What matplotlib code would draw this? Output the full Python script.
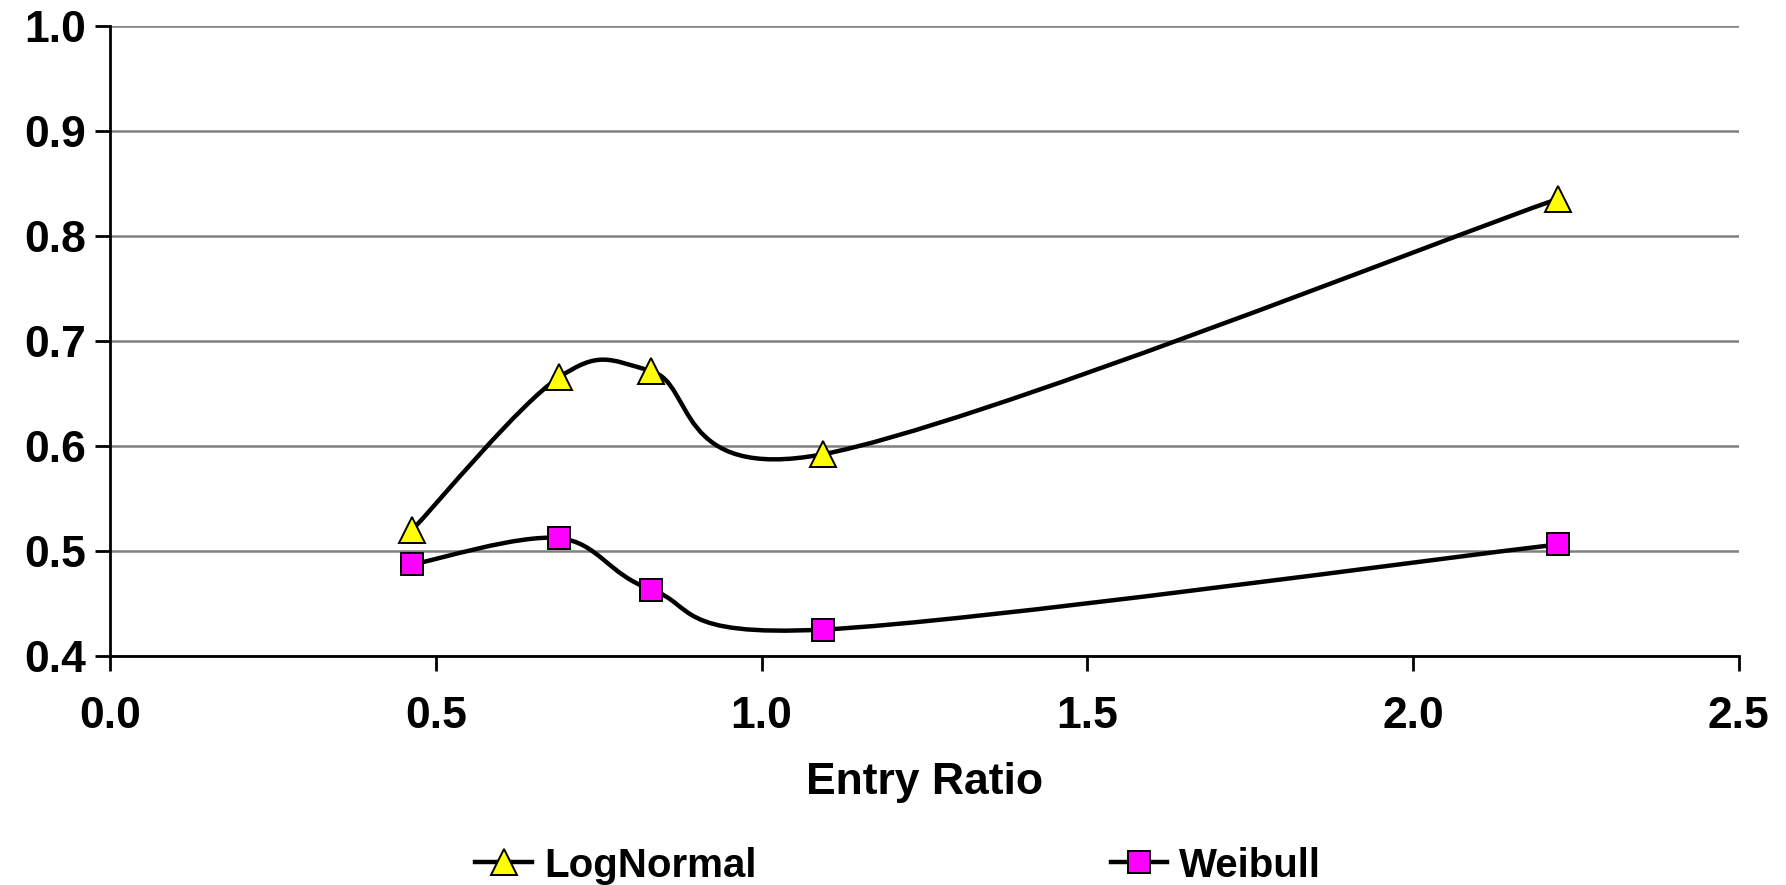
import numpy as np
import matplotlib
matplotlib.use("Agg")
import matplotlib.pyplot as plt
from matplotlib.path import Path
from matplotlib.patches import PathPatch
from matplotlib.lines import Line2D

plt.rcParams['font.family'] = ['Liberation Sans', 'DejaVu Sans']
plt.rcParams['font.weight'] = 'bold'

entry_ratio = [0.464, 0.689, 0.831, 1.095, 2.222]
lognormal = [0.520, 0.665, 0.671, 0.592, 0.835]
weibull = [0.487, 0.512, 0.463, 0.425, 0.506]

x_ticks = [0.0, 0.5, 1.0, 1.5, 2.0, 2.5]
y_ticks = [0.4, 0.5, 0.6, 0.7, 0.8, 0.9, 1.0]


def smooth_path(xs, ys):
    # spreadsheet-style smoothed line: cubic bezier through each point
    pts = np.column_stack([xs, ys])
    ext = np.vstack([pts[0], pts, pts[-1]])
    verts = [pts[0]]
    codes = [Path.MOVETO]
    for i in range(1, len(ext) - 2):
        p0, p1, p2, p3 = ext[i - 1], ext[i], ext[i + 1], ext[i + 2]
        c1 = p1 + (p2 - p0) / 6.0
        c2 = p2 - (p3 - p1) / 6.0
        verts += [c1, c2, p2]
        codes += [Path.CURVE4] * 3
    return Path(verts, codes)


fig = plt.figure(figsize=(17.86, 8.85), dpi=100)
ax = fig.add_axes([0.0616, 0.259, 0.912, 0.712])

for ys, mk, col in [(lognormal, '^', '#ffff00'), (weibull, 's', '#ff00ff')]:
    ax.add_patch(PathPatch(smooth_path(entry_ratio, ys), fill=False,
                           edgecolor='black', lw=3.2, zorder=3))
    ax.plot(entry_ratio, ys, linestyle='none', marker=mk,
            markersize=19 if mk == '^' else 16, markerfacecolor=col,
            markeredgecolor='black', markeredgewidth=1.4, zorder=4)

ax.set_xlim(0, 2.5)
ax.set_ylim(0.4, 1.0)
ax.set_xticks(x_ticks)
ax.set_yticks(y_ticks)
ax.set_xticklabels([f"{v:.1f}" for v in x_ticks])
ax.set_yticklabels([f"{v:.1f}" for v in y_ticks])
ax.yaxis.grid(True, color='#808080', lw=1.8)
ax.set_axisbelow(True)
for s in ['top', 'right']:
    ax.spines[s].set_visible(False)
for s in ['left', 'bottom']:
    ax.spines[s].set_linewidth(2)
ax.tick_params(axis='both', direction='out', width=2, length=11,
               labelsize=32, pad=6)
ax.tick_params(axis='x', pad=18)
ax.set_xlabel('Entry Ratio', fontsize=32, fontweight='bold', labelpad=18)

handles = [
    Line2D([], [], color='black', lw=3.2, marker='^', markersize=19,
           markerfacecolor='#ffff00', markeredgecolor='black', markeredgewidth=1.4),
    Line2D([], [], color='black', lw=3.2, marker='s', markersize=16,
           markerfacecolor='#ff00ff', markeredgecolor='black', markeredgewidth=1.4),
]
fig.legend(handles, ['LogNormal', 'Weibull'], loc='center',
           bbox_to_anchor=(0.503, 0.022), ncol=2, frameon=False,
           fontsize=29, handlelength=1.4, handletextpad=0.3,
           columnspacing=8.8)

fig.savefig('out.png', dpi=100)
